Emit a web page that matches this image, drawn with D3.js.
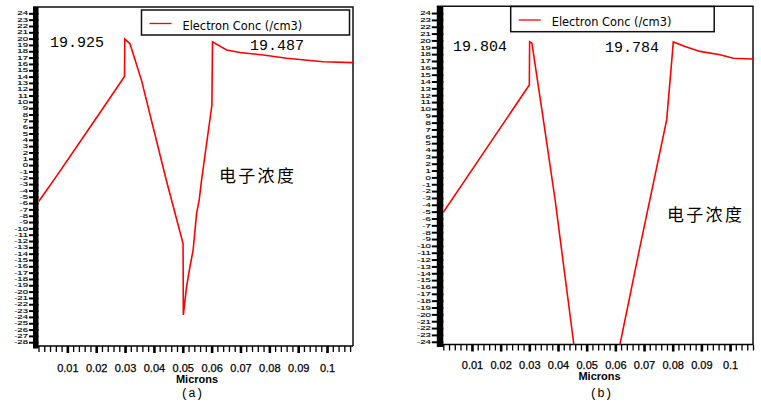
<!DOCTYPE html>
<html><head><meta charset="utf-8">
<script src="https://cdn.jsdelivr.net/npm/d3@7"></script>
<style>body{margin:0;background:#fff}svg{display:block}</style>
</head><body>
<svg id="c" width="761" height="404"></svg>
<script>
// ---------- data ----------
const seriesName = "Electron Conc (/cm3)";
const axisTitle = "Microns";
const cjkLabel = "电子浓度";
const captions = ["(a)", "(b)"];
const xTickValues = [0.01, 0.02, 0.03, 0.04, 0.05, 0.06, 0.07, 0.08, 0.09, 0.1];
const yTicksA = [24,23,22,21,20,19,18,17,16,15,14,13,12,11,10,9,8,7,6,5,4,3,2,1,0,-1,-2,-3,-4,-5,-6,-7,-8,-9,-10,-11,-12,-13,-14,-15,-16,-17,-18,-19,-20,-21,-22,-23,-24,-25,-26,-27,-28];
const yTicksB = [24,23,22,21,20,19,18,17,16,15,14,13,12,11,10,9,8,7,6,5,4,3,2,1,0,-1,-2,-3,-4,-5,-6,-7,-8,-9,-10,-11,-12,-13,-14,-15,-16,-17,-18,-19,-20,-21,-22,-23,-24];

// panel (a): position (microns) and log10 electron concentration
const xA = [0, 0.006, 0.015, 0.024, 0.0298, 0.0299, 0.0317, 0.0357, 0.0443, 0.0501, 0.0502, 0.0513, 0.0524, 0.0536, 0.0548, 0.0557, 0.0565, 0.0601, 0.0603, 0.0652, 0.0698, 0.0779, 0.0860, 0.0987, 0.109];
const yA = [-5.8, -1.9, 4.1, 10.1, 14.0, 19.925, 19.2, 13.4, -2.4, -12.4, -23.7, -19.3, -16.3, -13.4, -7.6, -5.5, -2.4, 9.5, 19.487, 18.2, 17.8, 17.4, 16.9, 16.35, 16.2];
const peakLabelsA = ["19.925", "19.487"];

// panel (b)
const xB = [0, 0.01, 0.02, 0.0300, 0.0301, 0.0309, 0.0349, 0.0390, 0.0454, 0.0472, 0.0592, 0.0617, 0.0686, 0.0779, 0.0797, 0.0802, 0.0843, 0.0895, 0.0965, 0.1011, 0.108];
const yB = [-5.1, 1.1, 7.3, 13.5, 19.804, 19.6, 8.4, -3.3, -24.0, -30, -30, -24.2, -10.1, 8.4, 17.2, 19.784, 19.1, 18.4, 17.9, 17.4, 17.3];
const peakLabelsB = ["19.804", "19.784"];

// ---------- layout ----------
const panels = [
  { id: "a", xs: xA, ys: yA, peaks: peakLabelsA, yTicks: yTicksA,
    x0: 38.5, x1: 353, yTop: 7, yBot: 346, xDom: [0, 0.109], yDom: [-28.6, 25],
    band: 5.5, tickLen: 9.5, labScale: 0.54,
    legend: { x: 141.5, y: 10, w: 208, h: 25 },
    ann: [{ x: 50, y: 47 }, { x: 250, y: 50 }],
    cjk: { x: 219, y: 182 }, titleX: 197, titleY: 383, capX: 192, capY: 397, tickLabelY: 372, caption: captions[0] },
  { id: "b", xs: xB, ys: yB, peaks: peakLabelsB, yTicks: yTicksB,
    x0: 443.3, x1: 753, yTop: 6.2, yBot: 344.5, xDom: [0, 0.108], yDom: [-24.4, 25],
    band: 6.5, tickLen: 11.5, labScale: 0.59,
    legend: { x: 510.7, y: 6.5, w: 203.5, h: 25.2 },
    ann: [{ x: 453, y: 51 }, { x: 605, y: 52 }],
    cjk: { x: 667, y: 221 }, titleX: 599.5, titleY: 380, capX: 601, capY: 397, tickLabelY: 369, caption: captions[1] }
];

const svg = d3.select("#c");

panels.forEach(p => {
  const g = svg.append("g");
  const x = d3.scaleLinear().domain(p.xDom).range([p.x0, p.x1]);
  const y = d3.scaleLinear().domain(p.yDom).range([p.yBot, p.yTop]);

  // clip
  svg.append("clipPath").attr("id", "clip" + p.id)
    .append("rect").attr("x", p.x0).attr("y", p.yTop)
    .attr("width", p.x1 - p.x0).attr("height", p.yBot - p.yTop);

  // frame (top & right)
  g.append("path")
    .attr("d", `M${p.x0 - p.band},${p.yTop}H${p.x1}V${p.yBot}`)
    .attr("fill", "none").attr("stroke", "#111").attr("stroke-width", 1.5);

  // x axis: minor ticks
  const minor = d3.range(0, p.xDom[1] + 1e-9, 0.002);
  const gxm = g.append("g").attr("transform", `translate(0,${p.yBot})`)
    .call(d3.axisBottom(x).tickValues(minor).tickSize(6).tickFormat(""));
  gxm.select(".domain").remove();
  gxm.selectAll("line").attr("stroke", "#000").attr("stroke-width", 1.3);

  // x axis: major ticks + labels
  const gx = g.append("g").attr("transform", `translate(0,${p.yBot})`)
    .call(d3.axisBottom(x).tickValues(xTickValues).tickSize(7)
      .tickFormat(d => String(+d.toFixed(2))));
  gx.select(".domain").remove();
  gx.selectAll("line").attr("stroke", "#000").attr("stroke-width", 2.6);
  gx.selectAll("text")
    .attr("y", p.tickLabelY - p.yBot).attr("dy", null)
    .attr("font-family", "'Liberation Sans', Arial, sans-serif")
    .attr("font-size", 11).attr("fill", "#000")
    .attr("stroke", "#000").attr("stroke-width", 0.25);

  // x axis line
  g.append("line").attr("x1", p.x0 - 1).attr("x2", p.x1)
    .attr("y1", p.yBot).attr("y2", p.yBot)
    .attr("stroke", "#000").attr("stroke-width", 1.5);

  // y axis
  const gy = g.append("g").attr("transform", `translate(${p.x0},0)`)
    .call(d3.axisLeft(y).tickValues(p.yTicks).tickSize(p.tickLen).tickPadding(1)
      .tickFormat(d => String(d)));
  gy.select(".domain").remove();
  gy.selectAll("line").attr("stroke", "#000").attr("stroke-width", 2);
  gy.selectAll("text")
    .attr("font-family", "'Liberation Sans', Arial, sans-serif")
    .attr("font-size", 9.6).attr("fill", "#000")
    .attr("stroke", "#000").attr("stroke-width", 0.2)
    .attr("transform", `scale(1,${p.labScale})`);

  // thick black axis band
  g.append("rect").attr("x", p.x0 - p.band).attr("y", p.yTop)
    .attr("width", p.band).attr("height", p.yBot - p.yTop + 2.5).attr("fill", "#000");

  // data line
  const pts = p.xs.map((v, i) => [v, p.ys[i]]);
  g.append("path").datum(pts)
    .attr("clip-path", `url(#clip${p.id})`)
    .attr("fill", "none").attr("stroke", "#ff0000").attr("stroke-width", 1.6)
    .attr("stroke-linejoin", "miter")
    .attr("d", d3.line().x(d => x(d[0])).y(d => y(d[1])));

  // legend
  const L = p.legend;
  g.append("rect").attr("x", L.x).attr("y", L.y).attr("width", L.w).attr("height", L.h)
    .attr("fill", "#fff").attr("stroke", "#111").attr("stroke-width", 1.5);
  g.append("line").attr("x1", L.x + 8).attr("x2", L.x + 30)
    .attr("y1", L.y + 13.5).attr("y2", L.y + 13.5)
    .attr("stroke", "#ff0000").attr("stroke-width", 1.3);
  g.append("text").attr("x", L.x + 41).attr("y", L.y + 19.5)
    .attr("font-family", "'DejaVu Sans', Verdana, sans-serif").attr("font-size", 11.4)
    .attr("fill", "#000").text(seriesName);

  // peak annotations
  p.peaks.forEach((t, i) => {
    g.append("text").attr("x", p.ann[i].x).attr("y", p.ann[i].y)
      .attr("font-family", "'Liberation Mono', 'DejaVu Sans Mono', monospace")
      .attr("font-size", 15).attr("fill", "#000").text(t);
  });

  // chinese label
  g.append("text").attr("x", p.cjk.x).attr("y", p.cjk.y)
    .attr("font-family", "'Noto Sans CJK SC', sans-serif").attr("font-size", 17)
    .attr("letter-spacing", 2.3).attr("fill", "#000").text(cjkLabel);

  // axis title
  g.append("text").attr("x", p.titleX).attr("y", p.titleY).attr("text-anchor", "middle")
    .attr("font-family", "'Liberation Sans', Arial, sans-serif").attr("font-size", 11)
    .attr("font-weight", "bold").attr("fill", "#000").text(axisTitle);

  // caption
  g.append("text").attr("x", p.capX).attr("y", p.capY).attr("text-anchor", "middle")
    .attr("font-family", "'Liberation Mono', monospace").attr("font-size", 12.5)
    .attr("fill", "#000").text(p.caption);
});
</script>
</body></html>
